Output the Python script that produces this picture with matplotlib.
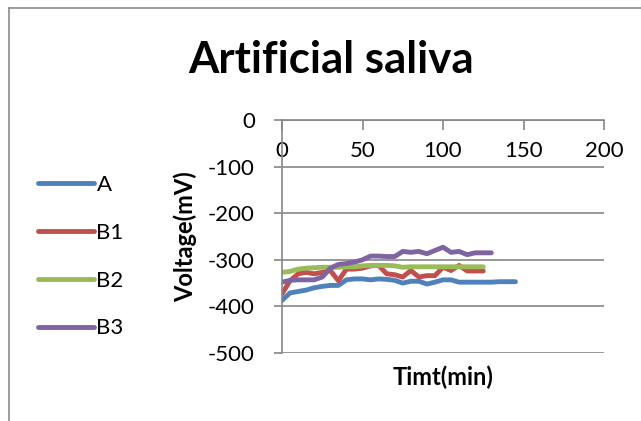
import matplotlib
matplotlib.use("Agg")
import matplotlib.pyplot as plt
from matplotlib.lines import Line2D

plt.rcParams['font.family'] = ['Lato', 'DejaVu Sans']

# ---- data ----
time_A = [0, 5, 10, 15, 20, 25, 30, 35, 40, 45, 50, 55, 60, 65, 70, 75, 80, 85,
          90, 95, 100, 105, 110, 115, 120, 125, 130, 135, 140, 145]
volt_A = [-387, -371, -368, -365, -360, -357, -355, -355, -343, -341, -341, -343,
          -341, -342, -344, -350, -346, -346, -352, -348, -343, -343, -348, -348,
          -348, -348, -348, -347, -347, -347]

time_B1 = [0, 5, 10, 15, 20, 25, 30, 35, 40, 45, 50, 55, 60, 65, 70, 75, 80, 85,
           90, 95, 100, 105, 110, 115, 120, 125]
volt_B1 = [-373, -345, -330, -327, -330, -327, -323, -345, -320, -320, -318, -313,
           -312, -330, -332, -337, -323, -337, -334, -334, -316, -323, -312, -324,
           -324, -324]

time_B2 = [0, 5, 10, 15, 20, 25, 30, 35, 40, 45, 50, 55, 60, 65, 70, 75, 80, 85,
           90, 95, 100, 105, 110, 115, 120, 125]
volt_B2 = [-327, -325, -320, -318, -317, -316, -316, -316, -315, -315, -313, -312,
           -312, -312, -313, -316, -315, -315, -315, -315, -315, -315, -315, -315,
           -315, -315]

time_B3 = [0, 5, 10, 15, 20, 25, 30, 35, 40, 45, 50, 55, 60, 65, 70, 75, 80, 85,
           90, 95, 100, 105, 110, 115, 120, 125, 130]
volt_B3 = [-348, -344, -343, -343, -343, -337, -318, -310, -308, -305, -300, -292,
           -292, -293, -293, -282, -284, -282, -287, -280, -273, -284, -282, -289,
           -285, -285, -285]

series_names = ["A", "B1", "B2", "B3"]
series_colors = ["#4F81BD", "#C0504D", "#9BBB59", "#8064A2"]
x_ticks = [0, 50, 100, 150, 200]
y_ticks = [0, -100, -200, -300, -400, -500]

W, H = 641, 421
fig = plt.figure(figsize=(W / 100, H / 100), dpi=100)
fig.patch.set_facecolor("white")

ax = fig.add_axes([282 / W, 1 - 353 / H, (604 - 282) / W, (353 - 120) / H])

data = [(time_A, volt_A), (time_B1, volt_B1), (time_B2, volt_B2), (time_B3, volt_B3)]
for (t, v), name, c in zip(data, series_names, series_colors):
    ax.plot(t, v, color=c, lw=3.5, label=name, solid_capstyle="round",
            solid_joinstyle="round")

axis_gray = "#868686"
ax.set_xlim(0, 200)
ax.set_ylim(-500, 0)
ax.set_xticks(x_ticks)
ax.set_yticks(y_ticks)
ax.set_yticklabels([str(v) for v in y_ticks])
ax.set_xticklabels([str(v) for v in x_ticks])

for s in ["right", "top"]:
    ax.spines[s].set_visible(False)
ax.spines["bottom"].set_position(("data", 0))
ax.spines["bottom"].set_color(axis_gray)
ax.spines["left"].set_color(axis_gray)
ax.spines["bottom"].set_linewidth(1.2)
ax.spines["left"].set_linewidth(1.2)

ax.yaxis.grid(True, color=axis_gray, lw=1.2)
ax.set_axisbelow(True)

ax.tick_params(axis="x", direction="out", length=7, width=1.2, color=axis_gray,
               labelsize=16, pad=8)
ax.tick_params(axis="y", direction="out", length=6, width=1.2, color=axis_gray,
               labelsize=16, pad=13.5)

ax.set_ylabel("Voltage(mV)", fontsize=17, fontweight="bold")
ax.yaxis.set_label_coords(-0.264, 0.5)
ax.set_xlabel("Timt(min)", fontsize=17, fontweight="bold")
ax.xaxis.set_label_coords(0.5, -0.052)

fig.text(331 / W, 1 - 73 / H, "Artificial saliva", fontsize=31.5, fontweight="bold",
         ha="center", va="baseline")

leg = fig.legend(loc="upper left", bbox_to_anchor=(18 / W, 1 - 155 / H),
                 frameon=False, fontsize=16, handlelength=2.5, handletextpad=0.13,
                 labelspacing=1.25)
for line in leg.get_lines():
    line.set_linewidth(3.5)
    line.set_solid_capstyle("round")

# chart border (left and top edges visible)
fig.add_artist(Line2D([9 / W, 9 / W], [0, 1 - 8 / H], transform=fig.transFigure,
                      color="#8c8c8c", lw=1.2))
fig.add_artist(Line2D([9 / W, 1], [1 - 8 / H, 1 - 8 / H], transform=fig.transFigure,
                      color="#8c8c8c", lw=1.2))

fig.savefig("out.png", dpi=100)
